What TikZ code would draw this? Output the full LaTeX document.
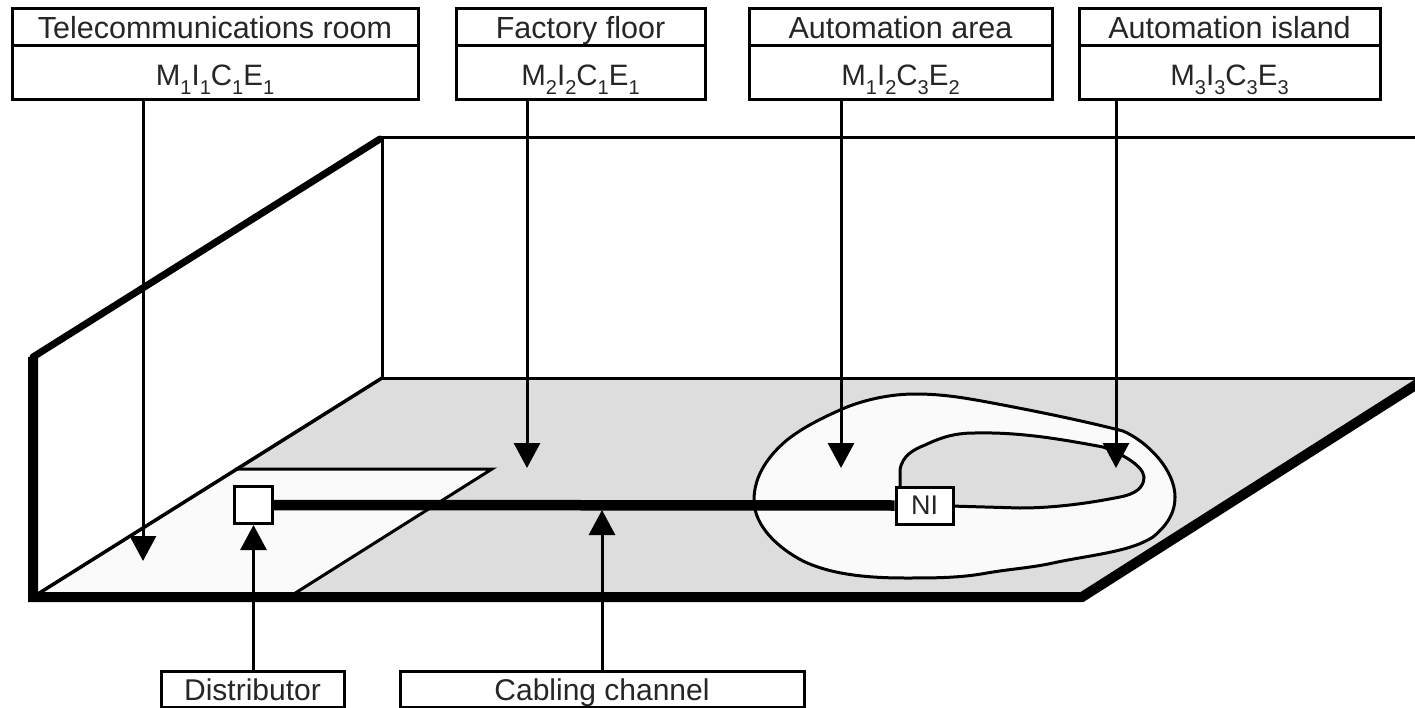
\documentclass[tikz,border=0pt]{standalone}
\usepackage{fontspec}
\setmainfont{Liberation Sans}
\usetikzlibrary{arrows.meta}
\newcommand{\lowidx}[1]{\raisebox{-0.3em}{\fontsize{20}{20}\selectfont #1}}
\newcommand{\code}[4]{M\lowidx{#1}I\lowidx{#2}C\lowidx{#3}E\lowidx{#4}}
\definecolor{floorgrey}{gray}{0.865}
\definecolor{paleway}{gray}{0.98}
\tikzset{
  labelbox/.style={draw=black,line width=3pt,fill=white,inner sep=0pt,outer sep=0pt,
    font=\fontsize{29.5}{29.5}\selectfont,text=black!85,anchor=north west,align=center,text depth=0pt},
  namebox/.style={labelbox,font=\fontsize{30.5}{30.5}\selectfont,minimum height=37pt,text height=21.5pt},
  codebox/.style={labelbox,minimum height=54pt,text height=26pt},
  footbox/.style={labelbox,font=\fontsize{30}{30}\selectfont,minimum height=36pt,text height=22pt},
  thinline/.style={line width=3pt},
  pointer/.style={line width=3pt,-{Triangle[length=25pt,width=26pt]}},
}
\begin{document}
\begin{tikzpicture}[x=1pt,y=-1pt]
\useasboundingbox (0,0) rectangle (1415,708);
\clip (0,0) rectangle (1415,708);
% floor
\fill[floorgrey] (382,378) -- (1415,378) -- (1415,385) -- (1082,597) -- (33,597) -- cycle;
\fill[paleway] (33,597) -- (235,469) -- (492,469) -- (289,597) -- cycle;
\draw[thinline] (235,469) -- (492,469) -- (289,597);
% wall
\draw[thinline] (382,138) -- (382,378);
\draw[thinline] (382,138) -- (1415,138);
\draw[thinline] (382,378) -- (1415,378);
\draw[line width=3.5pt,line cap=round] (33,597) -- (382,378);
\draw[line width=7pt,line cap=round] (33,357) -- (380,139);
% automation area
\draw[thinline,fill=paleway] (915,394)
  .. controls (890,394) and (862,400) .. (840,410)
  .. controls (820,419) and (802,428) .. (787,440)
  .. controls (768,456) and (754,476) .. (754,500)
  .. controls (754,526) and (778,548) .. (803,561)
  .. controls (830,574) and (865,578) .. (905,578)
  .. controls (935,578) and (960,578) .. (987,573)
  .. controls (1010,569) and (1030,568) .. (1053,563)
  .. controls (1090,555) and (1130,552) .. (1153,537)
  .. controls (1165,527) and (1175,515) .. (1175,497)
  .. controls (1175,470) and (1148,442) .. (1123,431)
  .. controls (1080,420) and (1030,410) .. (987,402)
  .. controls (960,397) and (940,394) .. (915,394) -- cycle;
% automation island
\draw[thinline,fill=floorgrey] (900,490) -- (900,470)
  .. controls (902,455) and (915,449) .. (925,445)
  .. controls (942,437) and (955,433) .. (975,433)
  .. controls (1020,432) and (1060,439) .. (1103,447)
  .. controls (1120,453) and (1143,465) .. (1144,477)
  .. controls (1144,488) and (1135,494) .. (1120,497)
  .. controls (1090,503) and (1055,508) .. (1020,508)
  -- (950,506) -- cycle;
% floor edge
\draw[line width=10pt,line join=miter] (33,357) -- (33,597) -- (1082,597) -- (1425,379);
% equipment
\node[draw=black,line width=3pt,fill=white,minimum width=38pt,minimum height=37pt,inner sep=0pt,outer sep=1.5pt] (dist) at (253.5,505) {};
\node[draw=black,line width=3pt,fill=white,minimum width=57pt,minimum height=37pt,inner sep=0pt,outer sep=1.5pt,font=\fontsize{27}{27}\selectfont,text=black!85] (ni) at (924.5,505.5) {NI};
\draw[line width=10.5pt] (dist.east) -- (ni.west);
% label boxes
\node[namebox,minimum width=406pt] (telename) at (12,9) {Telecommunications room};
\node[codebox,minimum width=406pt] (telecode) at (telename.south west) {\code1111};
\node[namebox,minimum width=249pt] (factname) at (456,9) {Factory floor};
\node[codebox,minimum width=249pt] (factcode) at (factname.south west) {\code2211};
\node[namebox,minimum width=303pt] (areaname) at (749,9) {Automation area};
\node[codebox,minimum width=303pt] (areacode) at (areaname.south west) {\code1232};
\node[namebox,minimum width=301pt] (islename) at (1079,9) {Automation island};
\node[codebox,minimum width=301pt] (islecode) at (islename.south west) {\code3333};
\node[footbox,minimum width=183pt] (distlabel) at (161,671) {Distributor};
\node[footbox,minimum width=404pt] (cablabel) at (400,671) {Cabling channel};
% pointers
\coordinate (teletip) at (143,561);
\coordinate (facttip) at (527,468);
\coordinate (areatip) at (841,468);
\coordinate (isletip) at (1116,468);
\coordinate (chantip) at (602,510);
\draw[pointer] (telecode.south -| teletip) -- (teletip);
\draw[pointer] (factcode.south -| facttip) -- (facttip);
\draw[pointer] (areacode.south -| areatip) -- (areatip);
\draw[pointer] (islecode.south -| isletip) -- (isletip);
\draw[pointer] (distlabel.north -| dist.south) -- (dist.south);
\draw[pointer] (cablabel.north -| chantip) -- (chantip);
\end{tikzpicture}
\end{document}
